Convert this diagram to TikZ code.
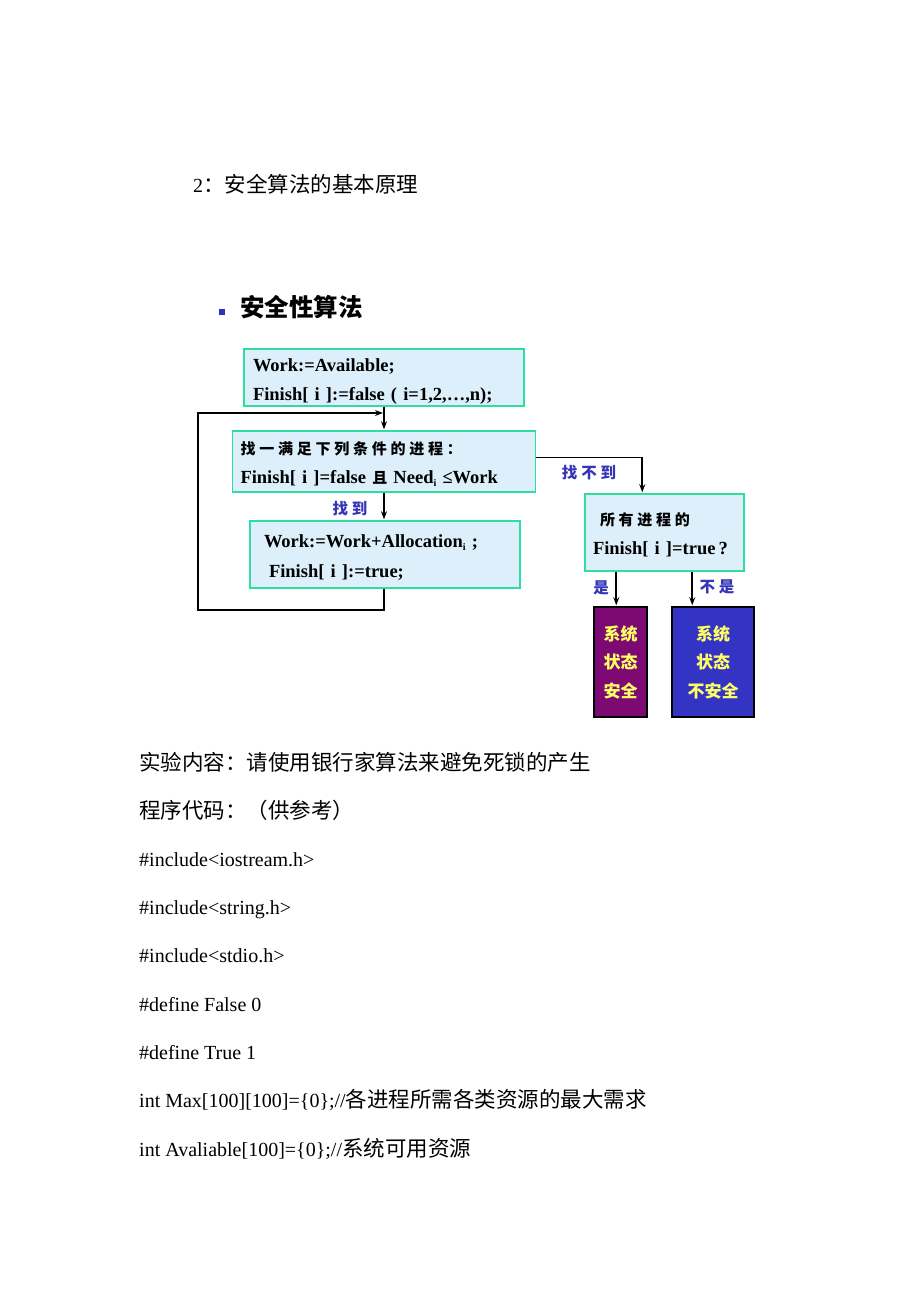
\documentclass[tikz,border=0pt]{standalone}
\usepackage{fontspec}
\setmainfont{Liberation Serif}
\newfontfamily\cjk{Noto Sans CJK SC}
\newfontfamily\cjkwide[LetterSpace=25]{Noto Sans CJK SC}
\usetikzlibrary{
        arrows.meta,
        positioning
    }
\definecolor{boxfill}{HTML}{DCEFFB}
\definecolor{boxline}{HTML}{2EDDA0}
\definecolor{lblblue}{HTML}{3535B5}
\definecolor{safefill}{HTML}{7D0A72}
\definecolor{unsafefill}{HTML}{3434C4}
\definecolor{warnyellow}{HTML}{FFFF66}
\definecolor{bulletblue}{HTML}{3030C0}
\tikzset{>={Stealth[length=8pt,width=6pt]},shorten >=1pt,node distance=2cm}
\tikzset{
    stepbox/.style={draw=boxline,fill=boxfill,line width=1.5pt,align=left,
        inner ysep=0pt,font=\bfseries\fontsize{18.5}{29}\selectfont},
    endbox/.style={draw=black,line width=1.5pt,align=center,inner sep=0pt,
        minimum height=110pt,text=warnyellow,
        font=\cjk\bfseries\fontsize{17}{28.5}\selectfont},
    flow/.style={line width=1.8pt},
    lbl/.style={text=lblblue,inner sep=0pt,font=\cjkwide\bfseries\fontsize{15.5}{15}\selectfont},
    txt/.style={anchor=base west,inner sep=0pt,font=\fontsize{20}{24}\selectfont}
}
\newcommand{\zh}[1]{{\cjk\fontsize{21.5}{24}\selectfont #1}}
\newcommand{\sub}[1]{\raisebox{-3pt}{\fontsize{10}{10}\selectfont #1}}

\begin{document}
\begin{tikzpicture}[x=1pt,y=-1pt]
    \fill[white] (0,0) rectangle (920,1302);
    \useasboundingbox (0,0) rectangle (920,1302);

    \node[txt] (title) at (193,192) {2\zh{：安全算法的基本原理}};

    \node[fill=bulletblue,minimum size=6pt,inner sep=0pt] (bullet) at (222,312) {};
    \node[anchor=base west,inner sep=0pt,font=\cjk\bfseries\fontsize{24.5}{28}\selectfont] (head) at (240,316) {安全性算法};

    % flow chart
    \node[stepbox,text width=262pt,inner xsep=9pt,minimum height=57pt] (init) at (384,377.5)
        {\rule{0pt}{21pt}Work:=Available;\\Finish[ i ]:=false ( i=1,2,…,n);};
    \node[stepbox,text width=287pt,inner xsep=8pt,minimum height=61pt] (find) at (384,461.5)
        {\rule{0pt}{18pt}{\cjkwide\fontsize{15}{29}\selectfont 找一满足下列条件的进程：}\\Finish[ i ]=false {\cjk\fontsize{15}{29}\selectfont 且} Need\sub{i} ≤Work};
    \node[stepbox,text width=242pt,inner xsep=14pt,minimum height=67pt] (grant) at (385,554.5)
        {\rule{0pt}{19pt}Work:=Work+Allocation\sub{i} ;\\[1pt]\hspace{5pt}Finish[ i ]:=true;};
    \node[stepbox,text width=143pt,inner xsep=8pt,minimum height=77pt] (check) at (664.5,532.5)
        {\rule{0pt}{17pt}\hspace{7pt}{\cjkwide\fontsize{15}{29}\selectfont 所有进程的}\\Finish[ i ]=true\,?};
    \node[endbox,fill=safefill,minimum width=53pt] (safe) at (620.5,662) {系统\\状态\\安全};
    \node[endbox,fill=unsafefill,minimum width=82pt] (unsafe) at (713,662) {系统\\状态\\不安全};

    \coordinate (back) at (198,610);
    \coordinate (join) at (384,413);

    \draw[flow,->] (init.south) -- (find.north);
    \draw[flow,->] (find.south) -- (find.south |- grant.north);
    \draw[flow,->] (grant.south -| join) |- (back) |- (join);
    \draw[flow,->] ([yshift=4pt]find.east) -| ([xshift=58pt]check.north west);
    \draw[flow,->] ([xshift=32pt]check.south west) -- ([xshift=32pt]check.south west |- safe.north);
    \draw[flow,->] ([xshift=108pt]check.south west) -- ([xshift=108pt]check.south west |- unsafe.north);

    \node[lbl] (notfound) at (589,473) {找不到};
    \node[lbl] (found) at (350,509) {找到};
    \node[lbl] (yes) at (601,588) {是};
    \node[lbl] (no) at (717,587) {不是};

    % text below
    \node[txt] (task) at (139,770) {\zh{实验内容：请使用银行家算法来避免死锁的产生}};
    \node[txt] (code) at (139,818) {\zh{程序代码：（供参考）}};
    \node[txt] (inc1) at (139,866) {\#include<iostream.h>};
    \node[txt] (inc2) at (139,914) {\#include<string.h>};
    \node[txt] (inc3) at (139,962) {\#include<stdio.h>};
    \node[txt] (def1) at (139,1011) {\#define False 0};
    \node[txt] (def2) at (139,1059) {\#define True 1};
    \node[txt] (max) at (139,1107) {int Max[100][100]=\{0\};//\zh{各进程所需各类资源的最大需求}};
    \node[txt] (avail) at (139,1156) {int Avaliable[100]=\{0\};//\zh{系统可用资源}};
\end{tikzpicture}
\end{document}
